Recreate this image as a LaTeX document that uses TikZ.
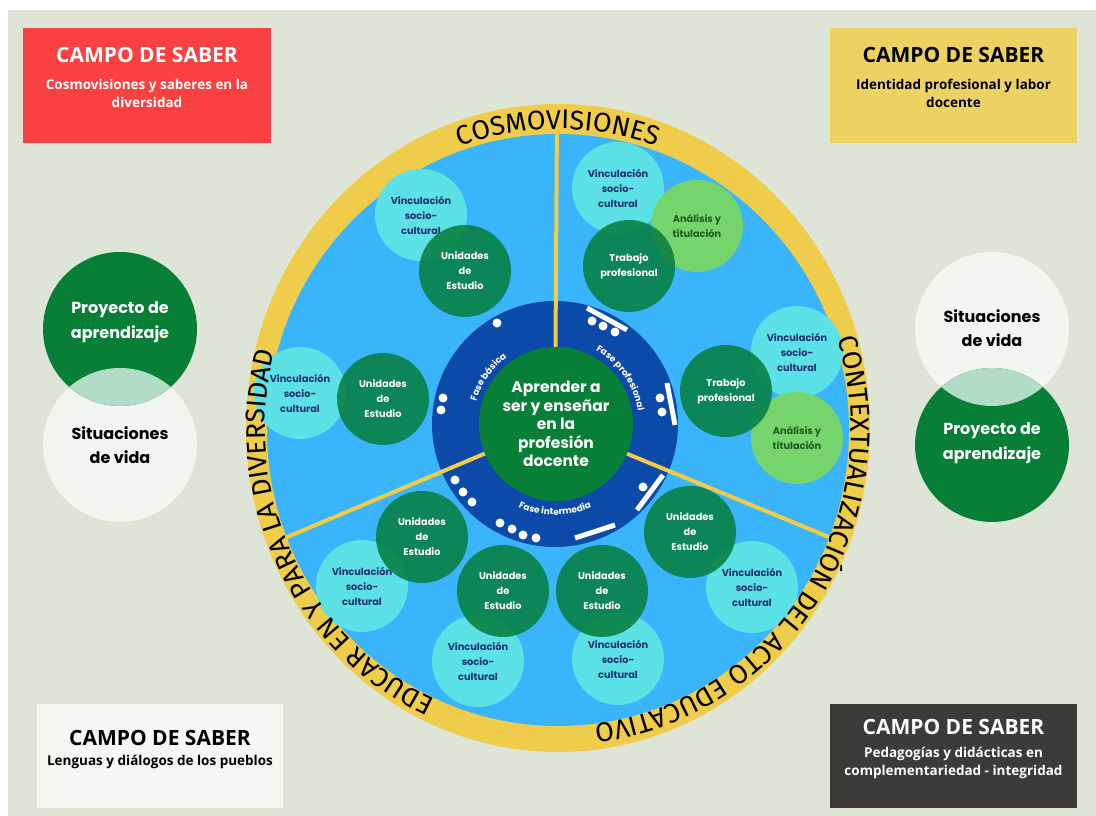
\documentclass[tikz,border=0pt]{standalone}
\usepackage{fontspec}
\setmainfont{Open Sans}
\newfontfamily\pop{Poppins}
\newfontfamily\osans{Open Sans}
\newfontfamily\fira{Fira Sans}
\usetikzlibrary{decorations.text}
\definecolor{bgc}{HTML}{DFE5D6}
\definecolor{redbox}{HTML}{F94141}
\definecolor{yelbox}{HTML}{ECD263}
\definecolor{whibox}{HTML}{F6F7F1}
\definecolor{darkbox}{HTML}{3C3B36}
\definecolor{ringc}{HTML}{EFCC4A}
\definecolor{sky}{HTML}{3AB5FC}
\definecolor{navyc}{HTML}{0B4AA8}
\definecolor{cgreen}{HTML}{077F36}
\definecolor{cyanc}{HTML}{5CE1E6}
\definecolor{lgreen}{HTML}{76D46C}
\definecolor{ugreen}{HTML}{068040}
\definecolor{navytext}{HTML}{1B2F6E}
\definecolor{antext}{HTML}{1E5B1E}
\definecolor{lens}{HTML}{B3DCC6}
\definecolor{offwhite}{HTML}{F3F5EF}
\tikzset{
 boxS/.style={rectangle, inner sep=0pt, draw=none},
 titleS/.style={font=\osans\bfseries\fontsize{21}{24}\selectfont, inner sep=0pt},
 subS/.style={font=\osans\bfseries\fontsize{13.5}{18}\selectfont, align=center, inner sep=0pt},
 bigC/.style={circle, minimum size=154pt, inner sep=0pt},
 bigT/.style={font=\pop\bfseries\fontsize{16}{24.5}\selectfont, align=center, inner sep=0pt},
 smallC/.style={circle, minimum size=92pt, inner sep=0pt, align=center, font=\pop\bfseries\fontsize{9.8}{15}\selectfont},
 vincS/.style={smallC, fill=cyanc, text=navytext},
 analS/.style={smallC, fill=lgreen, text=antext},
 unidS/.style={smallC, fill=ugreen, fill opacity=0.88, text opacity=1, text=white},
 wdot/.style={circle, fill=white, minimum size=9pt, inner sep=0pt},
 wbar/.style={white, line width=5pt},
 divider/.style={ringc, line width=4pt},
}
\begin{document}
\begin{tikzpicture}[x=1pt,y=1pt]
\useasboundingbox (0,0) rectangle (1096,816);
\fill[white] (0,0) rectangle (1096,816);
\fill[bgc] (8,0) rectangle (1096,806);

% corner boxes
\node[boxS, fill=redbox, minimum width=248pt, minimum height=115pt] (b1) at (147,730.5) {};
\node[titleS, text=white] (t1) at (147,761) {CAMPO DE SABER};
\node[subS, text=white] (s1) at (147,723) {Cosmovisiones y saberes en la\\diversidad};
\node[boxS, fill=yelbox, minimum width=247pt, minimum height=115pt] (b2) at (953.5,730.5) {};
\node[titleS, text=black] (t2) at (953.5,761) {CAMPO DE SABER};
\node[subS, text=black] (s2) at (953.5,723) {Identidad profesional y labor\\docente};
\node[boxS, fill=whibox, minimum width=246pt, minimum height=104pt] (b3) at (160,60) {};
\node[titleS, text=black] (t3) at (160,78) {CAMPO DE SABER};
\node[subS, text=black] (s3) at (160,54) {Lenguas y diálogos de los pueblos};
\node[boxS, fill=darkbox, minimum width=247pt, minimum height=104pt] (b4) at (953.5,60) {};
\node[titleS, text=white] (t4) at (953.5,89) {CAMPO DE SABER};
\node[subS, text=white] (s4) at (953.5,53.5) {Pedagogías y didácticas en\\complementariedad - integridad};

% side circles left
\node[bigC, fill=offwhite] (lw) at (120,371) {};
\node[bigC, fill=cgreen] (lg) at (120,487) {};
\begin{scope}\clip (120,487) circle (77);\fill[lens] (120,371) circle (77);\end{scope}
\node[bigT, text=white] (lgt) at (120,494) {Proyecto de\\aprendizaje};
\node[bigT, text=black] (lwt) at (120,371) {Situaciones\\de vida};
% side circles right
\node[bigC, fill=offwhite] (rw) at (992,487) {};
\node[bigC, fill=cgreen] (rg) at (992,371) {};
\begin{scope}\clip (992,487) circle (77);\fill[lens] (992,371) circle (77);\end{scope}
\node[bigT, text=black] (rwt) at (992,488) {Situaciones\\de vida};
\node[bigT, text=white] (rgt) at (992,373) {Proyecto de\\aprendizaje};

% main disc
\fill[ringc] (558,388) ellipse [x radius=312, y radius=324];
\fill[sky] (558,386) ellipse [x radius=291, y radius=296];

% light circles
\node[vincS] (v1) at (421,601) {Vinculación\\socio-\\cultural};
\node[vincS] (v2) at (300,423) {Vinculación\\socio-\\cultural};
\node[vincS] (v3) at (362,230) {Vinculación\\socio-\\cultural};
\node[vincS] (v4) at (478,155) {Vinculación\\socio-\\cultural};
\node[vincS] (v5) at (618,157) {Vinculación\\socio-\\cultural};
\node[vincS] (v6) at (752,229) {Vinculación\\socio-\\cultural};
\node[vincS] (v7) at (797,464) {Vinculación\\socio-\\cultural};
\node[vincS] (v8) at (618,628) {Vinculación\\socio-\\cultural};
\node[analS] (a1) at (797,378) {Análisis y\\titulación};
\node[analS] (a2) at (697,590) {Análisis y\\titulación};
% dark circles
\node[unidS] (u1) at (465,545) {Unidades\\de\\Estudio};
\node[unidS] (u2) at (383,417) {Unidades\\de\\Estudio};
\node[unidS] (u3) at (422,279) {Unidades\\de\\Estudio};
\node[unidS] (u4) at (503,225) {Unidades\\de\\Estudio};
\node[unidS] (u5) at (602,225) {Unidades\\de\\Estudio};
\node[unidS] (u6) at (690,284) {Unidades\\de\\Estudio};
\node[unidS] (tp1) at (726,425) {Trabajo\\profesional};
\node[unidS] (tp2) at (629,550) {Trabajo\\profesional};

% inner ring
\node[circle, fill=navyc, minimum size=246pt, inner sep=0pt] (ring) at (555,392) {};
\coordinate (d1) at (557,700);
\coordinate (d2) at (280,276);
\coordinate (d3) at (836,276);
\draw[divider] (ring.center) -- (d1);
\draw[divider] (ring.center) -- (d2);
\draw[divider] (ring.center) -- (d3);
\node[circle, fill=cgreen, minimum size=154pt, inner sep=0pt, align=center, text=white,
  font=\pop\bfseries\fontsize{15.5}{18.5}\selectfont] (core) at (556,392)
  {Aprender a\\ser y enseñar\\en la\\profesión\\docente};

% dots and bars
\node[wdot] (p1) at (497,493) {};
\node[wdot] (p2) at (443,418) {};
\node[wdot] (p3) at (441,406) {};
\node[wdot] (p4) at (592,495) {};
\node[wdot] (p5) at (603,490) {};
\node[wdot] (p6) at (615,484) {};
\node[wdot] (p7) at (660,418) {};
\node[wdot] (p8) at (662,404) {};
\node[wdot] (p9) at (455,336) {};
\node[wdot] (p10) at (463,324) {};
\node[wdot] (p11) at (472,314) {};
\node[wdot] (p12) at (500,293) {};
\node[wdot] (p13) at (512,287) {};
\node[wdot] (p14) at (523,281) {};
\node[wdot] (p15) at (536,278) {};
\node[wdot] (p16) at (643,329) {};
\coordinate (q1a) at (587,508); \coordinate (q1b) at (627,486);
\coordinate (q2a) at (667,433); \coordinate (q2b) at (675,391);
\coordinate (q3a) at (575,278); \coordinate (q3b) at (615,291);
\coordinate (q4a) at (637,306); \coordinate (q4b) at (663,341);
\draw[wbar] (q1a) -- (q1b);
\draw[wbar] (q2a) -- (q2b);
\draw[wbar] (q3a) -- (q3b);
\draw[wbar] (q4a) -- (q4b);

% phase labels
\path[decorate, decoration={text along path, text align=center,
  text={|\pop\bfseries\fontsize{9}{9}\selectfont\color{white}|Fase básica}}]
  (555,392) ++(180:82) arc[start angle=180, end angle=110, radius=82];
\path[decorate, decoration={text along path, text align=center,
  text={|\pop\bfseries\fontsize{9}{9}\selectfont\color{white}|Fase profesional}}]
  (555,392) ++(82:84) arc[start angle=82, end angle=-12, radius=84];
\path[decorate, decoration={text along path, text align=center,
  text={|\pop\bfseries\fontsize{9}{9}\selectfont\color{white}|Fase intermedia}}]
  (555,392) ++(225:91) arc[start angle=225, end angle=315, radius=91];

% big ring labels
\path[decorate, decoration={text along path, text align=center,
  text={|\fira\fontsize{27}{27}\selectfont|COSMOVISIONES}}]
  (558,388) ++(130:293 and 299) arc[start angle=130, end angle=50, x radius=293, y radius=299];
\path[decorate, decoration={text along path, text align=center,
  text={|\fira\fontsize{27}{27}\selectfont|CONTEXTUALIZACIÓN DEL ACTO EDUCATIVO}}]
  (558,388) ++(62:293 and 299) arc[start angle=62, end angle=-128, x radius=293, y radius=299];
\path[decorate, decoration={text along path, text align=center,
  text={|\fira\fontsize{27}{27}\selectfont|EDUCAR EN Y PARA LA DIVERSIDAD}}]
  (558,388) ++(280:293 and 299) arc[start angle=280, end angle=131, x radius=293, y radius=299];
\end{tikzpicture}
\end{document}
